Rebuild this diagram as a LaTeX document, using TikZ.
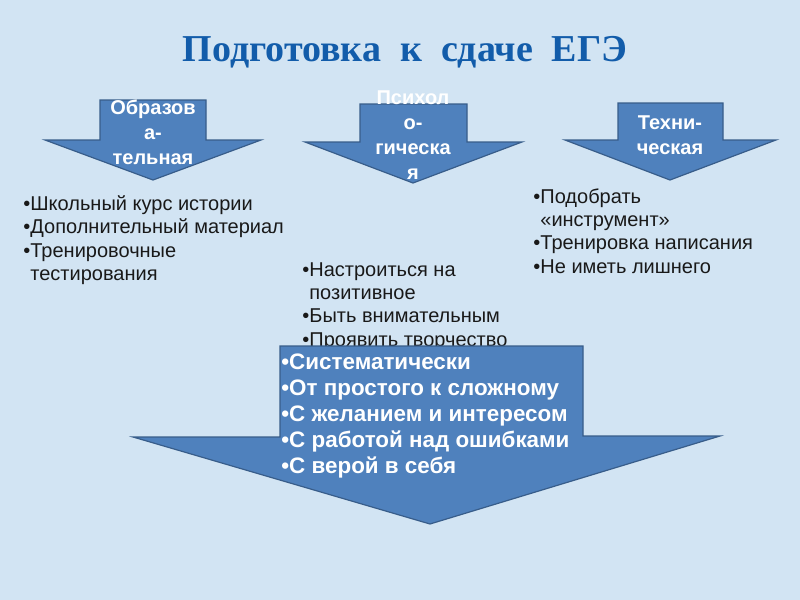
\documentclass[tikz,border=0pt]{standalone}
\usepackage{fontspec}
\setmainfont{Liberation Sans}
\newfontfamily\titlefont{Liberation Serif}
\usepackage{xcolor}
\definecolor{frost}{RGB}{210,228,243}
\definecolor{arrowblue}{RGB}{79,129,189}
\definecolor{arrowedge}{RGB}{56,93,138}
\definecolor{titleblue}{RGB}{18,92,170}
\definecolor{ink}{RGB}{25,25,25}
\usetikzlibrary{positioning}
\tikzset{
  blockarrow/.style={fill=arrowblue, draw=arrowedge, line width=0.6pt, line join=miter},
  arrowlabel/.style={font=\bfseries\fontsize{10}{12.6}\selectfont, text=white,
                     align=center, inner sep=0pt},
  notelist/.style={font=\fontsize{10}{11.7}\selectfont, text=ink,
                   align=left, anchor=north west, inner sep=0pt},
  mainlist/.style={font=\bfseries\fontsize{11.2}{13}\selectfont, text=white,
                   align=left, anchor=north west, inner sep=0pt},
}
\newcommand{\indt}{\phantom{•}}

\begin{document}
\begin{tikzpicture}[x=0.5pt,y=-0.5pt]
\fill[frost] (0,0) rectangle (800,600);
\useasboundingbox (0,0) rectangle (800,600);

\node[font=\titlefont\bfseries\fontsize{19}{22}\selectfont, text=titleblue]
  (title) at (405,52) {Подготовка\enspace к\enspace сдаче\enspace ЕГЭ};

% three small arrows
\draw[blockarrow] (100,100) -- (206,100) -- (206,140) -- (261,140) -- (153,180)
  -- (45,140) -- (100,140) -- cycle;
\draw[blockarrow] (360,104) -- (467,104) -- (467,142) -- (522,142) -- (413,183)
  -- (305,142) -- (360,142) -- cycle;
\draw[blockarrow] (618,103) -- (723,103) -- (723,140) -- (776,140) -- (670,180)
  -- (565,140) -- (618,140) -- cycle;

\node[arrowlabel] (eduLabel) at (153,132) {Образов\\а-\\тельная};
\node[arrowlabel] (psyLabel) at (413,135) {Психол\\о-\\гическа\\я};
\node[arrowlabel] (techLabel) at (670,135) {Техни-\\ческая};

\node[notelist] (eduList) at (23,195) {•Школьный курс истории\\
  •Дополнительный материал\\•Тренировочные\\\indt тестирования};
\node[notelist] (psyList) at (302,262) {•Настроиться на\\\indt позитивное\\
  •Быть внимательным\\•Проявить творчество};
\node[notelist] (techList) at (533,188) {•Подобрать\\\indt «инструмент»\\
  •Тренировка написания\\•Не иметь лишнего};

% big arrow on top
\draw[blockarrow] (280,346) -- (583,346) -- (583,436) -- (720,436) -- (430,524)
  -- (133,437) -- (280,437) -- cycle;
\node[mainlist] (mainList) at (281,353) {•Систематически\\•От простого к сложному\\
  •С желанием и интересом\\•С работой над ошибками\\•С верой в себя};
\end{tikzpicture}
\end{document}
